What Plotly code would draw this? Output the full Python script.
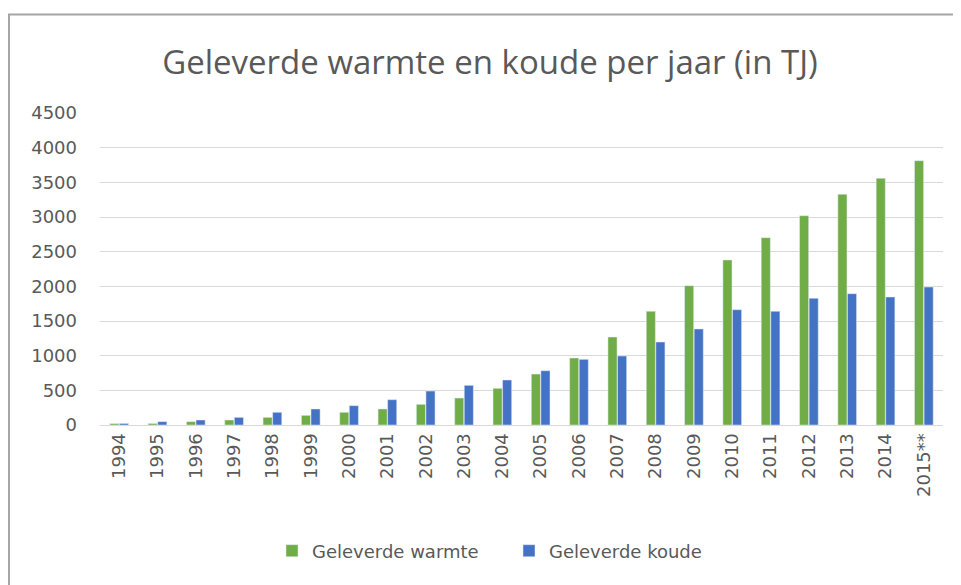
import plotly.graph_objects as go

years = ["1994", "1995", "1996", "1997", "1998", "1999", "2000", "2001", "2002", "2003", "2004",
         "2005", "2006", "2007", "2008", "2009", "2010", "2011", "2012", "2013", "2014", "2015**"]
warmte = [20, 22, 48, 72, 110, 139, 183, 231, 298, 389, 529, 735, 966, 1269, 1640, 2009,
          2380, 2702, 3019, 3327, 3558, 3812]
koude = [22, 48, 72, 110, 183, 231, 279, 365, 490, 572, 649, 783, 947, 995, 1197, 1385,
         1663, 1640, 1827, 1894, 1846, 1990]
yticks = [0, 500, 1000, 1500, 2000, 2500, 3000, 3500, 4000, 4500]

GREEN = "#70ad47"
BLUE = "#4472c4"
TXT = "#595959"
FONT = "Open Sans, DejaVu Sans, sans-serif"
TICKFONT = "DejaVu Sans, sans-serif"

fig = go.Figure()
fig.add_trace(go.Bar(x=years, y=warmte, name="Geleverde warmte", marker_color=GREEN))
fig.add_trace(go.Bar(x=years, y=koude, name="Geleverde koude", marker_color=BLUE))

OFF = 8  # page body margin
W, H = 961, 585
# targets in screenshot pixels
PL, PR, PT, PB = 100, 943, 113, 425
L = PL - OFF
T = PT - OFF
R = W - (PR - OFF)
B = H - (PB - OFF)
pw, ph = W - L - R, H - T - B

def px_x(p):
    return (p - OFF - L) / pw

def px_y(p):
    return (H - B - (p - OFF)) / ph

fig.update_layout(
    width=W, height=H,
    margin=dict(l=L, r=R, t=T, b=B),
    paper_bgcolor="white", plot_bgcolor="white",
    barmode="group", bargap=0.5, bargroupgap=0.05,
    font=dict(family=FONT, color=TXT, size=17),
    title=dict(text="Geleverde warmte en koude per jaar (in TJ)",
               x=(490 - OFF) / W, xanchor="center",
               y=1 - (62 - OFF) / H, yanchor="middle",
               font=dict(size=33, color=TXT, family=FONT)),
    showlegend=True,
    legend=dict(orientation="h", x=px_x(509), xanchor="center", y=px_y(551), yanchor="middle",
                font=dict(size=18, color=TXT, family=TICKFONT), traceorder="normal", itemwidth=30,
                entrywidth=192, bgcolor="rgba(0,0,0,0)"),
    xaxis=dict(type="category", tickangle=-90, showgrid=False, showline=True,
               linecolor="#d9d9d9", linewidth=1, ticks="",
               tickfont=dict(size=18, color=TXT, family=TICKFONT), fixedrange=True),
    yaxis=dict(range=[0, 4500], tickvals=yticks, ticktext=[str(v) for v in yticks],
               showgrid=True, gridcolor="#d9d9d9", gridwidth=1, zeroline=False,
               showline=False, ticks="", ticklabelstandoff=22,
               tickfont=dict(size=18, color=TXT, family=TICKFONT), fixedrange=True),
    shapes=[dict(type="rect", xref="paper", yref="paper",
                 x0=px_x(9), x1=px_x(990), y0=px_y(620), y1=px_y(14.5),
                 line=dict(color="#a6a6a6", width=2), fillcolor="rgba(0,0,0,0)", layer="below")],
)

fig.write_html("out.html")
